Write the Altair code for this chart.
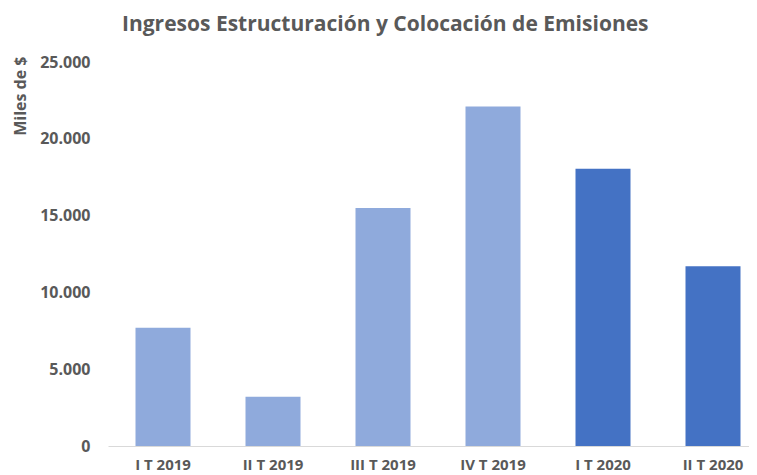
import altair as alt
import pandas as pd

categories = ["I T 2019", "II T 2019", "III T 2019", "IV T 2019", "I T 2020", "II T 2020"]
values = [7700, 3200, 15500, 22100, 18050, 11700]
colors = ["#8FAADC", "#8FAADC", "#8FAADC", "#8FAADC", "#4472C4", "#4472C4"]

df = pd.DataFrame({"cat": categories, "val": values, "color": colors})

chart = alt.Chart(df).mark_bar().encode(
    x=alt.X("cat:N", sort=categories, title=None,
            scale=alt.Scale(paddingInner=0.5, paddingOuter=0.25, range=[0, 660]),
            axis=alt.Axis(labelAngle=0, labelFontWeight="bold", labelFontSize=15,
                          labelColor="#595959", labelFont="Open Sans", ticks=False,
                          domainColor="#D9D9D9", labelPadding=11)),
    y=alt.Y("val:Q", title="Miles de $",
            scale=alt.Scale(domain=[0, 25000]),
            axis=alt.Axis(values=[0, 5000, 10000, 15000, 20000, 25000],
                          labelExpr="replace(format(datum.value, ','), ',', '.')",
                          grid=False, domain=False, ticks=False,
                          labelFontWeight="bold", labelFontSize=16, labelColor="#595959",
                          labelFont="Open Sans", labelPadding=18,
                          titleFont="Open Sans", titleFontSize=16, titleFontWeight="bold",
                          titleColor="#595959", titleAnchor="end", titlePadding=11,
                          titleY=-6)),
    color=alt.Color("color:N", scale=None),
).properties(
    width=641, height=384,
    autosize=alt.AutoSizeParams(type="none"),
    padding={"left": 100, "top": 54, "right": 0, "bottom": 29},
    title=alt.TitleParams("Ingresos Estructuración y Colocación de Emisiones",
                          font="Open Sans", fontSize=21, fontWeight="bold",
                          color="#595959", anchor="start", frame="group",
                          offset=19, dx=14),
).configure_view(stroke=None)

chart.save("out.html", embed_options={"renderer": "svg", "actions": False})
